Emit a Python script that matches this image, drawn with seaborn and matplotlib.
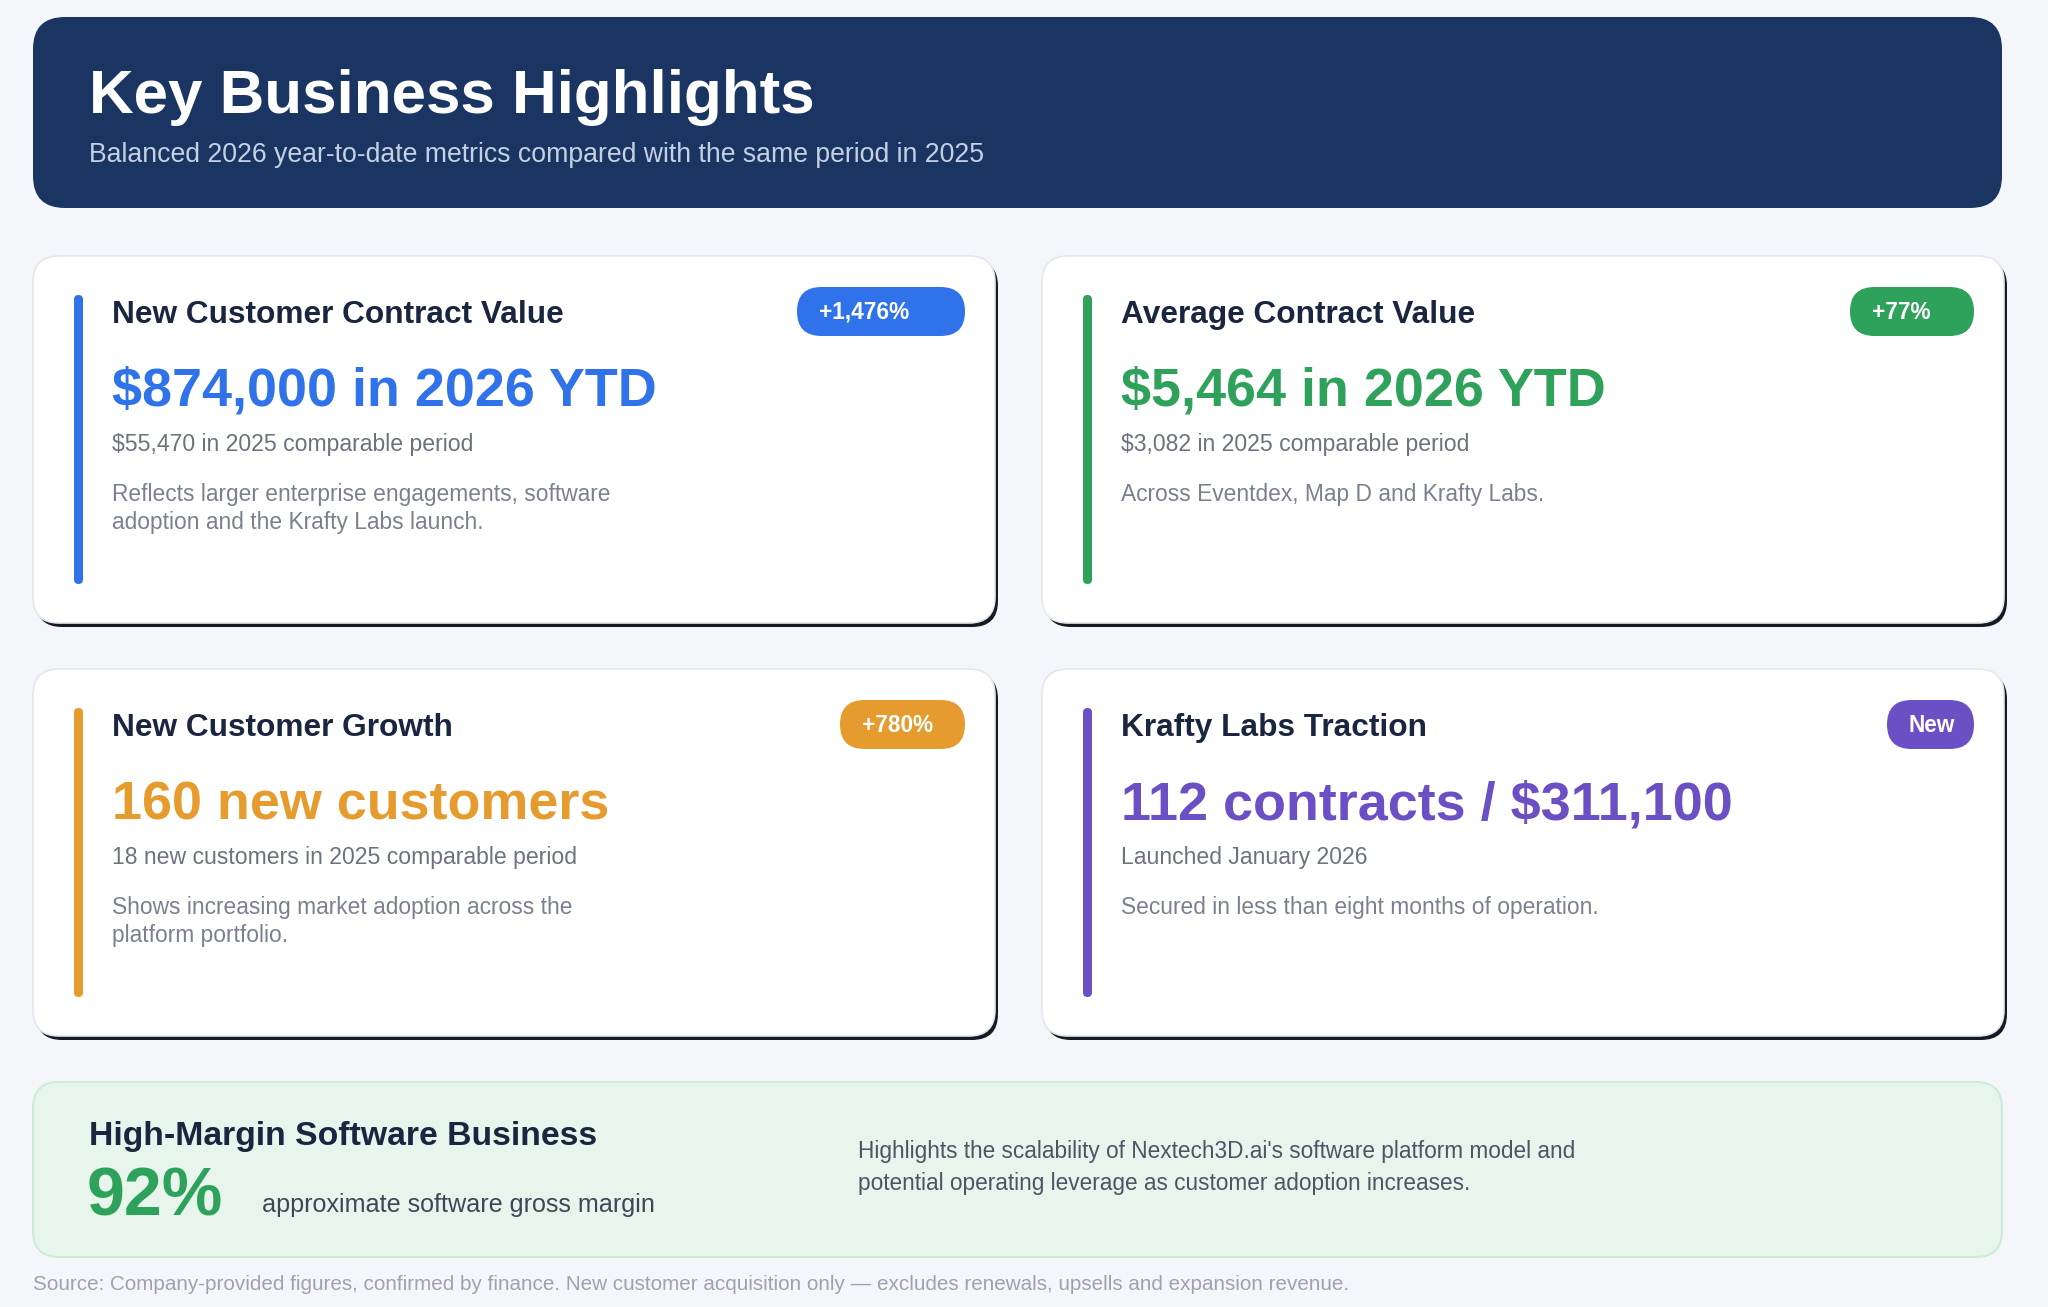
import matplotlib
matplotlib.use("Agg")
import matplotlib.pyplot as plt
from matplotlib.patches import FancyBboxPatch
import seaborn as sns

# chart content
page_title = "Key Business Highlights"
page_subtitle = "Balanced 2026 year-to-date metrics compared with the same period in 2025"

card_titles = ["New Customer Contract Value", "Average Contract Value",
               "New Customer Growth", "Krafty Labs Traction"]
card_values = ["$874,000 in 2026 YTD", "$5,464 in 2026 YTD",
               "160 new customers", "112 contracts / $311,100"]
card_comparisons = ["$55,470 in 2025 comparable period", "$3,082 in 2025 comparable period",
                    "18 new customers in 2025 comparable period", "Launched January 2026"]
card_notes = ["Reflects larger enterprise engagements, software\nadoption and the Krafty Labs launch.",
              "Across Eventdex, Map D and Krafty Labs.",
              "Shows increasing market adoption across the\nplatform portfolio.",
              "Secured in less than eight months of operation."]
card_badges = ["+1,476%", "+77%", "+780%", "New"]

margin_title = "High-Margin Software Business"
margin_value = "92%"
margin_label = "approximate software gross margin"
margin_note = "Highlights the scalability of Nextech3D.ai's software platform model and\npotential operating leverage as customer adoption increases."
source_note = ("Source: Company-provided figures, confirmed by finance. New customer acquisition only "
               "\u2014 excludes renewals, upsells and expansion revenue.")

# styling
accent_colors = ["#2f72ea", "#2ea15a", "#e69b2e", "#6b4fc4"]
badge_widths = [168, 124, 125, 87]
bg = "#f4f6fa"
navy = "#1b3563"
ink = "#1a2540"

sns.set_theme(style="white")
plt.rcParams["font.family"] = ["Liberation Sans", "DejaVu Sans"]

W, H = 2048, 1307
fig = plt.figure(figsize=(W / 100, H / 100), dpi=100, facecolor=bg)
ax = fig.add_axes([0, 0, 1, 1])
ax.set_xlim(0, W)
ax.set_ylim(H, 0)
ax.set_facecolor(bg)
ax.axis("off")


def rbox(x, y, w, h, r, fc, ec="none", lw=0, z=1):
    p = FancyBboxPatch((x, y), w, h, boxstyle=f"round,pad=0,rounding_size={r}",
                       fc=fc, ec=ec, lw=lw, zorder=z)
    ax.add_patch(p)
    return p


# header band
rbox(33, 17, 1969, 191, 32, navy)
ax.text(89, 113, page_title, color="white", fontsize=44.6, fontweight="bold", va="baseline")
ax.text(89, 162, page_subtitle, color="#c5d0e3", fontsize=19.2, va="baseline")

# metric cards
col_x = [33, 1042]
row_y = [256, 669]
cw, ch = 962, 367
for i in range(4):
    x0 = col_x[i % 2]
    y0 = row_y[i // 2]
    c = accent_colors[i]
    rbox(x0 + 3, y0 + 4, cw, ch, 26, "#151a24", z=1)
    rbox(x0, y0, cw, ch, 26, "white", ec="#e4e7ee", lw=1.2, z=2)
    rbox(x0 + 41, y0 + 39, 9, 289, 4.5, c, z=3)
    tx = x0 + 79
    ax.text(tx, y0 + 67, card_titles[i], color=ink, fontsize=22.8, fontweight="bold",
            va="baseline", zorder=4)
    ax.text(tx, y0 + 150, card_values[i], color=c, fontsize=38.8, fontweight="bold",
            va="baseline", zorder=4)
    ax.text(tx, y0 + 195, card_comparisons[i], color="#6b7280", fontsize=16.6,
            va="baseline", zorder=4)
    for k, line in enumerate(card_notes[i].split("\n")):
        ax.text(tx, y0 + 245 + 28 * k, line, color="#7a8090", fontsize=16.4,
                va="baseline", zorder=4)
    bw = badge_widths[i]
    bx = x0 + cw - 30 - bw
    rbox(bx, y0 + 31, bw, 49, 24.5, c, z=3)
    ax.text(bx + 22, y0 + 63, card_badges[i], color="white", fontsize=16.3,
            fontweight="bold", va="baseline", zorder=4)

# gross margin panel
rbox(33, 1082, 1969, 175, 26, "#e8f5ec", ec="#cdebd7", lw=1.5)
ax.text(89, 1145, margin_title, color=ink, fontsize=24.3, fontweight="bold", va="baseline")
ax.text(87, 1215, margin_value, color=accent_colors[1], fontsize=49, fontweight="bold",
        va="baseline")
ax.text(262, 1212, margin_label, color="#3f4756", fontsize=18.1, va="baseline")
for k, line in enumerate(margin_note.split("\n")):
    ax.text(858, 1158 + 32 * k, line, color="#4b5563", fontsize=16.3, va="baseline")

ax.text(33, 1290, source_note, color="#9ca3af", fontsize=14.9, va="baseline")

fig.savefig("out.png", dpi=100, facecolor=bg)
